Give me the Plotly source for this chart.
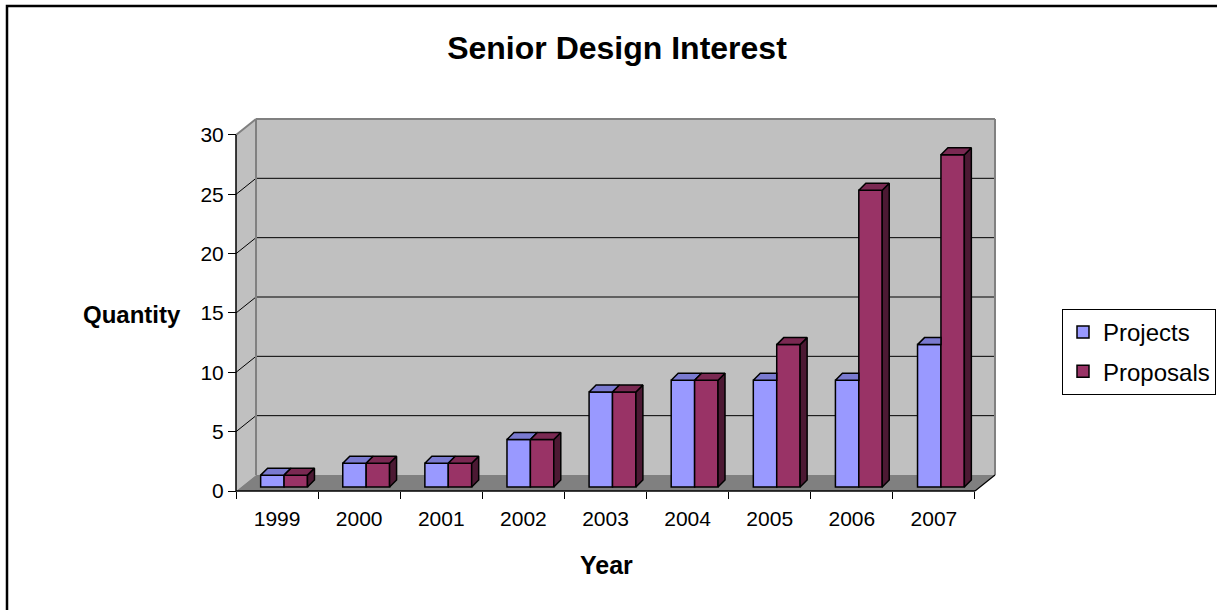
import plotly.graph_objects as go

# ---------------- data ----------------
years = ["1999", "2000", "2001", "2002", "2003", "2004", "2005", "2006", "2007"]
projects = [1, 2, 2, 4, 8, 9, 9, 9, 12]
proposals = [1, 2, 2, 4, 8, 9, 12, 25, 28]
y_ticks = [0, 5, 10, 15, 20, 25, 30]

# ---------------- layout geometry (pixels) ----------------
W, H = 1217, 610
PL, PR, PT, PB = 226, 1005, 109, 501      # plot-area box
AX_X, AX_Y = 236, 491                     # front axes position
XS = 82.11                                # px per category
YS = 11.867                               # px per value unit
DX, DY = 20 / XS, 16 / YS                 # full wall depth in data units
BX, BY = 7 / XS, 4 / YS                   # bar front offset (depth)
BDX, BDY = 7 / XS, 7 / YS                 # bar depth
BW = 0.285                                # bar width

x_lo = -0.5 - (AX_X - PL) / XS
x_hi = x_lo + (PR - PL) / XS
y_lo = -(PB - AX_Y) / YS
y_hi = y_lo + (PB - PT) / YS
ymax = y_ticks[-1]
n = len(years)
xa, xb = -0.5, n - 0.5

FONT = "Liberation Sans, Arial, sans-serif"
C_PROJ, C_PROJ_TOP = "#9999FF", "#7A7AD0"
C_PROP, C_PROP_TOP, C_PROP_SIDE = "#993366", "#7A2952", "#4C1933"

fig = go.Figure()

# front faces
fig.add_trace(go.Bar(
    name="Projects", x=[i + BX for i in range(n)], y=projects, base=BY,
    width=BW, offset=-BW, marker=dict(color=C_PROJ, line=dict(color="black", width=1.5)),
    legendgroup="a", hoverinfo="skip"))
fig.add_trace(go.Bar(
    name="Proposals", x=[i + BX for i in range(n)], y=proposals, base=BY,
    width=BW, offset=0, marker=dict(color=C_PROP, line=dict(color="black", width=1.5)),
    legendgroup="b", hoverinfo="skip"))

# top faces of projects (clipped where the neighbouring proposals bar is taller)
px, py = [], []
for i, (v1, v2) in enumerate(zip(projects, proposals)):
    x0 = i + BX - BW
    x1 = x0 + BW
    t = BY + v1
    cx = x1 if v2 > v1 else x1 + BDX
    px += [x0, x1, cx, x0 + BDX, x0, None]
    py += [t, t, t + BDY, t + BDY, t, None]
fig.add_trace(go.Scatter(x=px, y=py, mode="lines", fill="toself", fillcolor=C_PROJ_TOP,
                         line=dict(color="black", width=1.5), showlegend=False, hoverinfo="skip"))

# side faces of proposals
sx, sy = [], []
for i, v in enumerate(proposals):
    x1 = i + BX + BW
    t = BY + v
    sx += [x1, x1, x1 + BDX, x1 + BDX, x1, None]
    sy += [BY, t, t + BDY, BY + BDY, BY, None]
fig.add_trace(go.Scatter(x=sx, y=sy, mode="lines", fill="toself", fillcolor=C_PROP_SIDE,
                         line=dict(color="black", width=1.5), showlegend=False, hoverinfo="skip"))

# top faces of proposals
tx, ty = [], []
for i, v in enumerate(proposals):
    x0 = i + BX
    x1 = x0 + BW
    t = BY + v
    tx += [x0, x1, x1 + BDX, x0 + BDX, x0, None]
    ty += [t, t, t + BDY, t + BDY, t, None]
fig.add_trace(go.Scatter(x=tx, y=ty, mode="lines", fill="toself", fillcolor=C_PROP_TOP,
                         line=dict(color="black", width=1.5), showlegend=False, hoverinfo="skip"))

# ---------------- walls, floor, gridlines ----------------
shapes = []
shapes.append(dict(type="path", xref="x", yref="y", layer="below",
                   path=f"M{xa},0 L{xa},{ymax} L{xa+DX},{ymax+DY} L{xa+DX},{DY} Z",
                   fillcolor="#C0C0C0", line=dict(width=0)))
shapes.append(dict(type="rect", xref="x", yref="y", layer="below",
                   x0=xa + DX, x1=xb + DX, y0=DY, y1=ymax + DY,
                   fillcolor="#C0C0C0", line=dict(width=0)))
shapes.append(dict(type="path", xref="x", yref="y", layer="below",
                   path=f"M{xa},0 L{xb},0 L{xb+DX},{DY} L{xa+DX},{DY} Z",
                   fillcolor="#808080", line=dict(width=0)))
for v in y_ticks[1:-1]:
    shapes.append(dict(type="line", xref="x", yref="y", layer="below",
                       x0=xa + DX, x1=xb + DX, y0=v + DY, y1=v + DY,
                       line=dict(color="black", width=1)))
    shapes.append(dict(type="line", xref="x", yref="y", layer="below",
                       x0=xa, x1=xa + DX, y0=v, y1=v + DY,
                       line=dict(color="black", width=1)))
# grey wall edges
for (a, b, c, d) in [(xa + DX, DY, xa + DX, ymax + DY),
                     (xa + DX, ymax + DY, xb + DX, ymax + DY),
                     (xa, ymax, xa + DX, ymax + DY),
                     (xb + DX, DY, xb + DX, ymax + DY)]:
    shapes.append(dict(type="line", xref="x", yref="y", layer="below",
                       x0=a, y0=b, x1=c, y1=d, line=dict(color="#808080", width=2)))
# floor right edge and front axes
shapes.append(dict(type="line", xref="x", yref="y", x0=xb, y0=0, x1=xb + DX, y1=DY,
                   line=dict(color="black", width=1.2)))
shapes.append(dict(type="line", xref="x", yref="y", x0=xa, y0=0, x1=xa, y1=ymax,
                   line=dict(color="black", width=1.5)))
shapes.append(dict(type="line", xref="x", yref="y", x0=xa, y0=0, x1=xb, y1=0,
                   line=dict(color="black", width=1.5)))
# outer chart border
def pxx(v): return (v - PL) / (PR - PL)
def pyy(v): return (PB - v) / (PB - PT)
shapes.append(dict(type="rect", xref="paper", yref="paper",
                   x0=pxx(7), x1=pxx(W + 10), y0=pyy(H + 10), y1=pyy(6),
                   line=dict(color="black", width=2.5), fillcolor="rgba(0,0,0,0)"))

annotations = [
    dict(text="<b>Quantity</b>", xref="paper", yref="paper", x=pxx(132), y=pyy(314),
         xanchor="center", yanchor="middle", showarrow=False,
         font=dict(family=FONT, size=24, color="black")),
    dict(text="<b>Year</b>", xref="paper", yref="paper", x=pxx(606), y=pyy(565),
         xanchor="center", yanchor="middle", showarrow=False,
         font=dict(family=FONT, size=25, color="black")),
]

fig.update_layout(
    width=W, height=H,
    margin=dict(l=PL, r=W - PR, t=PT, b=H - PB, pad=0, autoexpand=False),
    paper_bgcolor="white", plot_bgcolor="rgba(0,0,0,0)",
    barmode="overlay",
    showlegend=True,
    title=dict(text="<b>Senior Design Interest</b>", x=617 / W, y=1 - 48 / H,
               xref="container", yref="container", xanchor="center", yanchor="middle",
               font=dict(family=FONT, size=32, color="black")),
    xaxis=dict(range=[x_lo, x_hi], anchor="free", position=(PB - AX_Y) / (PB - PT),
               tickmode="array", tickvals=list(range(n)), ticktext=years,
               ticks="outside", ticklen=9, tickcolor="rgba(0,0,0,0)",
               showgrid=False, zeroline=False, showline=False,
               tickfont=dict(family=FONT, size=21, color="black")),
    xaxis2=dict(range=[x_lo, x_hi], overlaying="x", matches="x", anchor="free",
                position=(PB - AX_Y) / (PB - PT), side="bottom",
                tickmode="array", tickvals=[i - 0.5 for i in range(n + 1)],
                ticks="outside", ticklen=7, tickwidth=1.2, tickcolor="black",
                showticklabels=False, showgrid=False, zeroline=False, showline=False),
    yaxis=dict(range=[y_lo, y_hi], anchor="free", position=(AX_X - PL) / (PR - PL),
               tickmode="array", tickvals=y_ticks,
               ticks="outside", ticklen=8, tickwidth=1.2, tickcolor="black",
               showgrid=False, zeroline=False, showline=False,
               tickfont=dict(family=FONT, size=21, color="black")),
    legend=dict(x=pxx(1216), y=pyy(309), xanchor="right", yanchor="top",
                bordercolor="black", borderwidth=1, bgcolor="white",
                traceorder="grouped", tracegroupgap=5, itemclick=False, itemdoubleclick=False,
                font=dict(family=FONT, size=24, color="black")),
    shapes=shapes, annotations=annotations,
)

# dummy trace so xaxis2 is drawn
fig.add_trace(go.Scatter(x=[None], y=[None], xaxis="x2", showlegend=False, hoverinfo="skip"))

fig.write_html("out.html")
